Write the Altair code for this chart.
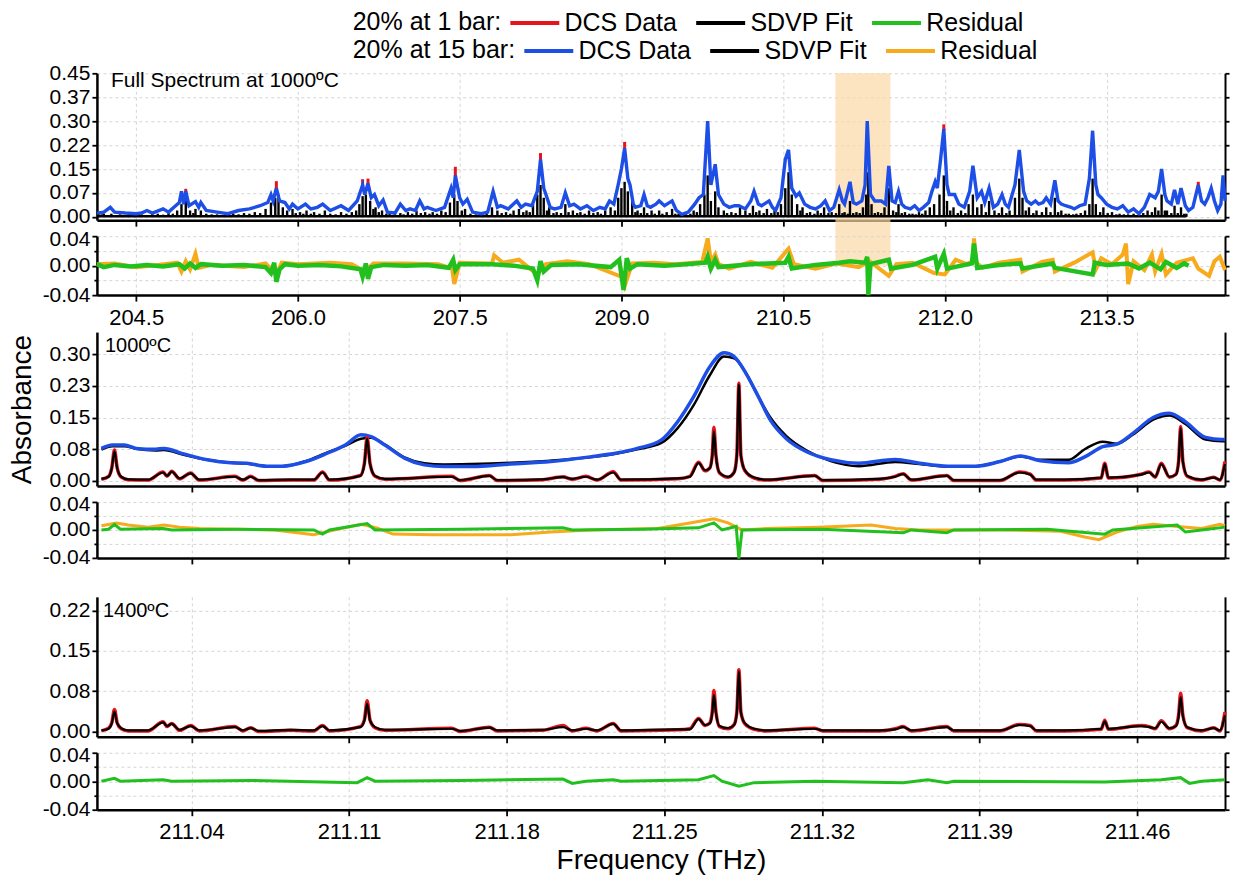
import altair as alt
import pandas as pd

# ---------------- text ----------------
SERIES = ["DCS Data", "SDVP Fit", "Residual"]
SERIES_15 = ["15 bar DCS Data", "15 bar SDVP Fit", "15 bar Residual"]
SERIES_15_PREFIX = "15 bar "
LEG1_TITLE = "20% at 1 bar:"
LEG15_TITLE = "20% at 15 bar:"
COLORS_1BAR = ["#e8141c", "#000000", "#22c01e"]
COLORS_15BAR = ["#1d4fe6", "#000000", "#f7aa1c"]
BAND_COLOR = "#fbd9a6"
PANEL_TEXT = ["Full Spectrum at 1000ºC", "1000ºC", "1400ºC"]
X_TITLE = "Frequency (THz)"
Y_TITLE = "Absorbance"

# ---------------- axes ----------------
FULL_X_DOMAIN = [204.136, 214.598]
FULL_X_TICKS = [204.5, 206.0, 207.5, 209.0, 210.5, 212.0, 213.5]
ZOOM_X_DOMAIN = [210.998, 211.499]
ZOOM_X_TICKS = [211.04, 211.11, 211.18, 211.25, 211.32, 211.39, 211.46]
P1_Y_DOMAIN = [-0.0103, 0.45]
P1_Y_TICKS = [0, 0.075, 0.15, 0.225, 0.3, 0.375, 0.45]
P1_Y_LABELS = ["0.00", "0.07", "0.15", "0.22", "0.30", "0.37", "0.45"]
P2_Y_DOMAIN = [-0.0118, 0.352]
P2_Y_TICKS = [0, 0.075, 0.15, 0.225, 0.3]
P2_Y_LABELS = ["0.00", "0.08", "0.15", "0.23", "0.30"]
P3_Y_DOMAIN = [-0.0099, 0.2505]
P3_Y_TICKS = [0, 0.075, 0.15, 0.225]
P3_Y_LABELS = ["0.00", "0.08", "0.15", "0.22"]
RES_Y_DOMAIN = [-0.04, 0.04]
RES_Y_TICKS = [-0.04, -0.02, 0, 0.02, 0.04]
RES_Y_LABELS = ["-0.04", "", "0.00", "", "0.04"]
BAND = [210.985, 211.495]

# ---------------- full spectrum (1000 C) ----------------
P1_BLUE_15BAR = [(204.136,0.012),(204.2,0.015),(204.26,0.03),(204.3,0.015),(204.4,0.012),(204.5,0.01),(204.55,0.012),(204.6,0.02),(204.65,0.012),(204.75,0.025),(204.8,0.015),(204.85,0.03),(204.9,0.045),(204.92,0.08),(204.94,0.04),(204.96,0.08),(204.99,0.035),(205.05,0.048),(205.08,0.03),(205.1,0.045),(205.15,0.02),(205.25,0.015),(205.35,0.01),(205.45,0.02),(205.55,0.025),(205.65,0.035),(205.72,0.045),(205.75,0.07),(205.77,0.05),(205.8,0.09),(205.83,0.05),(205.88,0.045),(205.92,0.025),(205.95,0.04),(206.0,0.025),(206.07,0.04),(206.12,0.025),(206.18,0.03),(206.23,0.04),(206.3,0.02),(206.4,0.035),(206.47,0.02),(206.55,0.05),(206.6,0.1),(206.62,0.07),(206.65,0.105),(206.68,0.06),(206.71,0.07),(206.75,0.035),(206.79,0.053),(206.83,0.015),(206.9,0.012),(206.95,0.04),(207.0,0.02),(207.04,0.025),(207.09,0.02),(207.13,0.05),(207.17,0.025),(207.2,0.03),(207.28,0.02),(207.36,0.03),(207.42,0.09),(207.44,0.06),(207.46,0.13),(207.5,0.06),(207.53,0.04),(207.57,0.055),(207.62,0.015),(207.7,0.01),(207.76,0.015),(207.81,0.08),(207.85,0.03),(207.88,0.035),(207.95,0.025),(208.03,0.05),(208.07,0.03),(208.11,0.04),(208.17,0.035),(208.22,0.08),(208.25,0.18),(208.28,0.09),(208.3,0.07),(208.34,0.03),(208.38,0.025),(208.44,0.03),(208.48,0.075),(208.52,0.035),(208.56,0.04),(208.62,0.025),(208.68,0.035),(208.74,0.02),(208.8,0.03),(208.85,0.025),(208.89,0.05),(208.93,0.04),(208.97,0.1),(209.0,0.15),(209.03,0.215),(209.06,0.12),(209.08,0.1),(209.11,0.04),(209.13,0.03),(209.18,0.035),(209.21,0.07),(209.24,0.035),(209.27,0.03),(209.32,0.04),(209.35,0.05),(209.4,0.035),(209.47,0.05),(209.51,0.02),(209.56,0.008),(209.62,0.015),(209.68,0.04),(209.72,0.06),(209.76,0.07),(209.8,0.3),(209.83,0.1),(209.87,0.165),(209.9,0.07),(209.95,0.04),(210.0,0.03),(210.05,0.035),(210.09,0.035),(210.15,0.025),(210.2,0.05),(210.23,0.08),(210.27,0.04),(210.3,0.035),(210.37,0.05),(210.4,0.03),(210.43,0.02),(210.48,0.06),(210.52,0.18),(210.55,0.21),(210.58,0.09),(210.62,0.065),(210.65,0.075),(210.7,0.04),(210.75,0.03),(210.8,0.025),(210.85,0.035),(210.89,0.05),(210.93,0.02),(210.97,0.03),(211.02,0.085),(211.05,0.05),(211.07,0.04),(211.12,0.11),(211.15,0.045),(211.18,0.04),(211.23,0.05),(211.26,0.1),(211.28,0.3),(211.31,0.07),(211.35,0.05),(211.41,0.05),(211.45,0.04),(211.48,0.16),(211.51,0.05),(211.54,0.045),(211.57,0.08),(211.6,0.04),(211.63,0.03),(211.68,0.025),(211.72,0.035),(211.76,0.02),(211.8,0.03),(211.85,0.045),(211.88,0.08),(211.91,0.11),(211.93,0.09),(211.96,0.18),(211.99,0.275),(212.02,0.1),(212.04,0.07),(212.09,0.07),(212.13,0.04),(212.18,0.03),(212.23,0.08),(212.26,0.16),(212.3,0.06),(212.34,0.08),(212.37,0.045),(212.41,0.09),(212.45,0.03),(212.49,0.04),(212.53,0.07),(212.56,0.04),(212.59,0.03),(212.65,0.1),(212.69,0.21),(212.73,0.08),(212.76,0.05),(212.8,0.04),(212.84,0.05),(212.87,0.04),(212.91,0.045),(212.94,0.06),(212.98,0.04),(213.02,0.115),(213.05,0.05),(213.08,0.04),(213.12,0.035),(213.17,0.03),(213.2,0.025),(213.25,0.035),(213.3,0.04),(213.34,0.12),(213.37,0.27),(213.4,0.1),(213.42,0.07),(213.45,0.06),(213.5,0.04),(213.55,0.03),(213.6,0.025),(213.65,0.035),(213.7,0.015),(213.75,0.025),(213.8,0.01),(213.85,0.03),(213.9,0.07),(213.95,0.06),(213.98,0.08),(214.01,0.15),(214.04,0.07),(214.06,0.05),(214.1,0.04),(214.13,0.085),(214.16,0.04),(214.19,0.09),(214.23,0.035),(214.26,0.02),(214.3,0.03),(214.35,0.1),(214.38,0.05),(214.41,0.04),(214.44,0.06),(214.47,0.09),(214.5,0.05),(214.53,0.02),(214.56,0.04),(214.58,0.13),(214.598,0.05)]

P1_STICKS_1BAR = [(204.15,0.015),(204.18,0.008),(204.2,0.01),(204.24,0.006),(204.27,0.01),(204.31,0.005),(204.35,0.008),(204.4,0.006),(204.45,0.005),(204.5,0.007),(204.55,0.008),(204.6,0.006),(204.65,0.009),(204.7,0.01),(204.75,0.007),(204.8,0.012),(204.84,0.01),(204.88,0.02),(204.92,0.04),(204.96,0.05),(205.0,0.02),(205.03,0.012),(205.05,0.025),(205.1,0.02),(205.15,0.01),(205.2,0.008),(205.25,0.008),(205.3,0.006),(205.35,0.007),(205.4,0.01),(205.45,0.008),(205.5,0.012),(205.55,0.01),(205.6,0.015),(205.65,0.012),(205.7,0.025),(205.75,0.045),(205.79,0.06),(205.82,0.07),(205.86,0.03),(205.9,0.02),(205.95,0.025),(205.98,0.012),(206.02,0.015),(206.05,0.01),(206.08,0.02),(206.12,0.01),(206.15,0.015),(206.2,0.01),(206.25,0.02),(206.3,0.01),(206.35,0.008),(206.4,0.015),(206.45,0.01),(206.5,0.015),(206.54,0.02),(206.57,0.04),(206.6,0.065),(206.63,0.07),(206.67,0.05),(206.7,0.025),(206.72,0.03),(206.75,0.015),(206.78,0.02),(206.82,0.01),(206.85,0.015),(206.9,0.01),(206.95,0.012),(206.98,0.008),(207.02,0.015),(207.06,0.01),(207.1,0.02),(207.14,0.012),(207.18,0.015),(207.22,0.01),(207.25,0.015),(207.29,0.01),(207.33,0.02),(207.37,0.015),(207.41,0.045),(207.45,0.07),(207.48,0.05),(207.52,0.02),(207.55,0.025),(207.6,0.01),(207.65,0.008),(207.7,0.008),(207.75,0.012),(207.8,0.03),(207.85,0.02),(207.89,0.012),(207.93,0.015),(207.97,0.01),(208.0,0.02),(208.05,0.025),(208.09,0.015),(208.12,0.02),(208.15,0.015),(208.18,0.04),(208.22,0.07),(208.25,0.1),(208.28,0.06),(208.31,0.02),(208.33,0.03),(208.37,0.012),(208.4,0.015),(208.44,0.012),(208.48,0.04),(208.51,0.015),(208.55,0.02),(208.59,0.012),(208.62,0.015),(208.66,0.01),(208.7,0.02),(208.74,0.012),(208.78,0.015),(208.81,0.01),(208.85,0.02),(208.9,0.03),(208.94,0.02),(208.97,0.06),(209.0,0.09),(209.03,0.11),(209.06,0.08),(209.1,0.05),(209.13,0.015),(209.15,0.02),(209.18,0.012),(209.21,0.03),(209.24,0.012),(209.28,0.02),(209.31,0.01),(209.35,0.02),(209.38,0.01),(209.42,0.015),(209.47,0.025),(209.5,0.01),(209.53,0.01),(209.57,0.006),(209.6,0.008),(209.64,0.01),(209.67,0.02),(209.7,0.015),(209.73,0.04),(209.77,0.07),(209.8,0.13),(209.83,0.05),(209.87,0.08),(209.9,0.03),(209.95,0.02),(209.98,0.012),(210.02,0.015),(210.06,0.012),(210.1,0.03),(210.15,0.02),(210.19,0.012),(210.22,0.035),(210.25,0.015),(210.28,0.02),(210.32,0.012),(210.35,0.025),(210.39,0.012),(210.42,0.02),(210.45,0.015),(210.48,0.04),(210.52,0.09),(210.55,0.14),(210.58,0.07),(210.63,0.04),(210.66,0.02),(210.68,0.03),(210.72,0.012),(210.75,0.015),(210.79,0.01),(210.82,0.02),(210.85,0.012),(210.88,0.03),(210.92,0.012),(210.95,0.015),(210.99,0.012),(211.02,0.04),(211.05,0.012),(211.07,0.015),(211.1,0.01),(211.12,0.05),(211.15,0.012),(211.18,0.015),(211.21,0.012),(211.24,0.03),(211.27,0.07),(211.29,0.14),(211.32,0.04),(211.35,0.012),(211.38,0.015),(211.41,0.012),(211.44,0.03),(211.48,0.09),(211.52,0.02),(211.55,0.015),(211.57,0.04),(211.6,0.012),(211.63,0.015),(211.67,0.01),(211.7,0.01),(211.73,0.008),(211.76,0.015),(211.79,0.01),(211.82,0.02),(211.86,0.03),(211.9,0.04),(211.95,0.07),(211.99,0.13),(212.02,0.05),(212.05,0.02),(212.08,0.03),(212.12,0.012),(212.15,0.02),(212.19,0.012),(212.22,0.04),(212.26,0.07),(212.3,0.03),(212.34,0.04),(212.38,0.015),(212.41,0.05),(212.46,0.02),(212.5,0.012),(212.53,0.03),(212.57,0.012),(212.6,0.02),(212.65,0.06),(212.69,0.12),(212.72,0.06),(212.75,0.02),(212.78,0.03),(212.82,0.012),(212.85,0.02),(212.9,0.015),(212.94,0.03),(212.98,0.015),(213.02,0.06),(213.05,0.015),(213.08,0.02),(213.12,0.01),(213.15,0.01),(213.19,0.008),(213.22,0.01),(213.26,0.012),(213.3,0.02),(213.34,0.04),(213.37,0.12),(213.4,0.04),(213.44,0.015),(213.47,0.03),(213.51,0.012),(213.55,0.015),(213.59,0.008),(213.62,0.01),(213.66,0.008),(213.7,0.008),(213.75,0.01),(213.8,0.01),(213.84,0.012),(213.88,0.02),(213.92,0.015),(213.95,0.03),(213.98,0.02),(214.01,0.07),(214.04,0.02),(214.06,0.02),(214.1,0.012),(214.13,0.035),(214.16,0.012),(214.19,0.03),(214.22,0.01),(214.24,0.01)]

P1_FIT_1BAR_BASE = (204.136, 214.24, 0.002)   # start, end, level
P1_RED_TIPS_1BAR = [(204.96,0.078,0.088),(205.8,0.088,0.112),(206.6,0.098,0.118),(206.65,0.103,0.12),(207.46,0.128,0.157),(208.25,0.178,0.2),(209.03,0.213,0.235),(211.99,0.273,0.29),(214.35,0.098,0.11)]

P1_RES_1BAR = [(204.136,0.002),(204.2,-0.002),(204.3,0.001),(204.45,-0.001),(204.6,0.001),(204.75,-0.001),(204.9,0.002),(204.95,-0.004),(205.0,0.003),(205.05,-0.003),(205.1,0.002),(205.3,0.0),(205.5,0.001),(205.7,-0.002),(205.75,-0.01),(205.78,0.004),(205.8,-0.022),(205.83,-0.005),(205.88,0.002),(206.0,0.0),(206.2,0.001),(206.4,-0.001),(206.58,-0.005),(206.6,-0.015),(206.63,0.003),(206.65,-0.018),(206.68,-0.002),(206.8,0.001),(207.0,0.0),(207.2,0.001),(207.4,-0.003),(207.44,0.008),(207.46,-0.006),(207.5,0.002),(207.8,0.002),(208.0,0.0),(208.18,-0.004),(208.22,-0.02),(208.25,0.006),(208.28,-0.008),(208.35,0.001),(208.6,0.002),(208.9,-0.002),(208.98,0.008),(209.02,-0.033),(209.05,0.01),(209.08,-0.004),(209.15,0.002),(209.4,0.0),(209.6,0.002),(209.78,0.004),(209.8,0.012),(209.83,-0.004),(209.87,0.008),(209.9,-0.002),(210.2,0.002),(210.52,0.004),(210.55,0.012),(210.58,-0.004),(210.8,0.001),(211.02,0.004),(211.12,0.006),(211.26,0.004),(211.28,0.012),(211.29,-0.04),(211.31,0.002),(211.48,0.008),(211.5,-0.004),(211.7,0.001),(211.91,0.012),(211.93,-0.004),(211.99,0.016),(212.02,-0.004),(212.25,0.003),(212.27,0.03),(212.3,-0.003),(212.5,0.001),(212.7,0.003),(212.72,-0.004),(213.0,0.003),(213.02,-0.003),(213.37,-0.012),(213.39,0.004),(213.5,0.001),(213.7,0.003),(213.8,-0.004),(213.9,0.004),(214.0,-0.005),(214.05,0.005),(214.15,-0.003),(214.22,0.003),(214.26,0.0)]

P1_RES_15BAR = [(204.136,0.002),(204.3,0.003),(204.5,-0.002),(204.7,0.001),(204.88,0.004),(204.92,-0.008),(204.96,0.006),(205.0,-0.005),(205.05,0.016),(205.08,-0.003),(205.2,0.001),(205.5,-0.002),(205.7,0.003),(205.8,-0.012),(205.85,0.004),(206.0,0.002),(206.3,0.004),(206.5,0.002),(206.62,-0.008),(206.7,0.003),(207.0,0.003),(207.3,0.002),(207.43,-0.004),(207.45,-0.025),(207.5,0.004),(207.8,0.003),(207.82,0.014),(207.9,0.004),(208.05,0.008),(208.22,-0.012),(208.3,0.002),(208.5,0.006),(208.7,0.002),(209.0,-0.015),(209.03,-0.028),(209.1,0.003),(209.3,0.004),(209.5,0.002),(209.75,0.005),(209.8,0.037),(209.83,0.005),(209.87,0.015),(209.9,0.002),(210.0,-0.004),(210.2,0.005),(210.4,-0.003),(210.55,0.023),(210.6,0.002),(210.8,-0.004),(211.0,0.003),(211.2,-0.002),(211.3,0.006),(211.48,-0.014),(211.55,0.002),(211.7,0.004),(211.9,-0.01),(212.0,-0.012),(212.1,0.008),(212.2,0.002),(212.26,0.006),(212.27,0.037),(212.29,0.004),(212.35,-0.003),(212.5,0.004),(212.7,0.008),(212.72,-0.008),(212.9,0.005),(213.0,0.008),(213.02,-0.008),(213.2,0.004),(213.37,0.018),(213.4,-0.005),(213.45,0.01),(213.55,0.002),(213.65,0.015),(213.68,0.03),(213.7,-0.025),(213.75,0.006),(213.85,-0.006),(213.92,0.015),(213.95,-0.008),(214.01,0.016),(214.05,-0.012),(214.15,0.004),(214.3,0.01),(214.35,-0.004),(214.45,-0.014),(214.5,0.006),(214.55,0.012),(214.598,-0.006)]

# ---------------- zoomed window: 15 bar at 1000 C ----------------
Z15_FREQ = [211.0,211.0049,211.0102,211.0154,211.0242,211.0277,211.0365,211.047,211.0575,211.0645,211.0733,211.0803,211.0908,211.0996,211.1083,211.1153,211.1197,211.1259,211.1346,211.1434,211.1521,211.1644,211.1819,211.1995,211.217,211.2289,211.238,211.2487,211.2559,211.2631,211.2702,211.2765,211.281,211.2863,211.2917,211.2971,211.3042,211.3132,211.3239,211.3364,211.3525,211.3633,211.3758,211.3884,211.3991,211.4081,211.417,211.4295,211.4367,211.4447,211.451,211.4582,211.4671,211.4743,211.4814,211.4904,211.4976,211.499]
P2_DATA_15BAR = [0.077,0.085,0.085,0.077,0.075,0.077,0.064,0.05,0.043,0.042,0.035,0.035,0.046,0.064,0.085,0.109,0.105,0.085,0.054,0.038,0.034,0.034,0.04,0.046,0.057,0.066,0.077,0.097,0.14,0.2,0.27,0.303,0.294,0.254,0.2,0.144,0.1,0.069,0.05,0.042,0.051,0.042,0.035,0.035,0.046,0.059,0.048,0.043,0.057,0.081,0.087,0.113,0.15,0.16,0.14,0.103,0.098,0.098]
P2_FIT_15BAR = [0.074,0.082,0.082,0.076,0.072,0.073,0.062,0.05,0.043,0.041,0.035,0.035,0.047,0.066,0.083,0.1,0.102,0.086,0.056,0.042,0.039,0.04,0.043,0.048,0.056,0.065,0.075,0.09,0.125,0.18,0.25,0.294,0.29,0.255,0.2,0.15,0.106,0.072,0.047,0.035,0.045,0.04,0.034,0.035,0.046,0.058,0.05,0.05,0.075,0.093,0.088,0.11,0.145,0.155,0.135,0.098,0.094,0.094]

# ---------------- zoomed window: 1 bar lines ----------------
Z1_FREQ = [211.0,211.0032,211.0046,211.0058,211.007,211.0088,211.0119,211.0207,211.0274,211.0291,211.0312,211.0347,211.0396,211.0435,211.0593,211.0628,211.0663,211.0698,211.084,211.0943,211.0982,211.1013,211.115,211.1168,211.118,211.1193,211.1215,211.1259,211.1556,211.1592,211.1723,211.1758,211.196,211.205,211.2091,211.2152,211.2201,211.2273,211.2308,211.2559,211.2613,211.2652,211.2681,211.2702,211.2713,211.272,211.2729,211.2745,211.2783,211.281,211.2822,211.2831,211.284,211.2858,211.2899,211.2953,211.3168,211.3203,211.3454,211.3525,211.3561,211.3597,211.3755,211.3785,211.3991,211.4077,211.4125,211.4152,211.4278,211.444,211.4456,211.4472,211.4617,211.4653,211.468,211.4707,211.4743,211.4772,211.4784,211.4793,211.4803,211.4822,211.4886,211.494,211.4967,211.499]
P2_FIT_1BAR = [0.005,0.01,0.03,0.07,0.03,0.01,0.004,0.003,0.02,0.012,0.022,0.006,0.018,0.003,0.01,0.003,0.01,0.002,0.003,0.003,0.02,0.003,0.012,0.04,0.1,0.04,0.012,0.005,0.01,0.002,0.012,0.002,0.004,0.009,0.005,0.01,0.003,0.02,0.003,0.006,0.01,0.042,0.025,0.03,0.06,0.118,0.06,0.02,0.01,0.02,0.06,0.228,0.06,0.025,0.008,0.003,0.012,0.002,0.005,0.01,0.016,0.003,0.012,0.002,0.002,0.02,0.015,0.003,0.003,0.008,0.04,0.008,0.015,0.02,0.01,0.04,0.01,0.015,0.045,0.125,0.045,0.012,0.003,0.008,0.003,0.04]
P2_DATA_1BAR = [0.004,0.011,0.031,0.073,0.031,0.009,0.003,0.002,0.021,0.011,0.023,0.005,0.019,0.002,0.011,0.002,0.011,0.001,0.002,0.002,0.021,0.002,0.013,0.042,0.103,0.041,0.011,0.004,0.011,0.001,0.013,0.001,0.003,0.01,0.004,0.011,0.002,0.022,0.002,0.005,0.011,0.044,0.024,0.031,0.063,0.127,0.062,0.019,0.009,0.021,0.062,0.231,0.061,0.024,0.007,0.002,0.013,0.001,0.004,0.011,0.017,0.002,0.013,0.001,0.001,0.021,0.016,0.002,0.002,0.007,0.042,0.007,0.016,0.021,0.009,0.042,0.009,0.016,0.047,0.129,0.046,0.011,0.002,0.009,0.002,0.046]
P3_FIT_1BAR = [0.002,0.005,0.015,0.037,0.015,0.006,0.002,0.002,0.017,0.01,0.014,0.003,0.01,0.002,0.008,0.002,0.006,0.001,0.003,0.002,0.01,0.002,0.008,0.02,0.052,0.02,0.008,0.003,0.005,0.001,0.007,0.002,0.003,0.008,0.002,0.005,0.002,0.014,0.002,0.004,0.004,0.023,0.012,0.015,0.035,0.068,0.035,0.01,0.006,0.012,0.035,0.112,0.035,0.015,0.005,0.002,0.005,0.002,0.002,0.004,0.008,0.002,0.008,0.002,0.002,0.012,0.01,0.002,0.002,0.005,0.019,0.005,0.01,0.008,0.006,0.018,0.006,0.01,0.028,0.064,0.028,0.008,0.002,0.006,0.002,0.03]
P3_DATA_1BAR = [0.001,0.006,0.016,0.041,0.016,0.005,0.001,0.001,0.018,0.009,0.015,0.002,0.011,0.001,0.009,0.001,0.007,0.0,0.002,0.001,0.011,0.001,0.009,0.022,0.057,0.021,0.007,0.002,0.006,0.0,0.008,0.001,0.002,0.011,0.001,0.006,0.001,0.015,0.001,0.003,0.005,0.024,0.011,0.016,0.038,0.076,0.037,0.009,0.005,0.013,0.036,0.115,0.036,0.014,0.004,0.001,0.006,0.001,0.001,0.005,0.009,0.001,0.009,0.001,0.001,0.013,0.011,0.001,0.001,0.004,0.021,0.004,0.011,0.009,0.005,0.02,0.005,0.011,0.031,0.071,0.03,0.007,0.001,0.007,0.001,0.036]

# ---------------- zoomed window residuals ----------------
P2_RES_15BAR = [(211.0,0.006),(211.0067,0.01),(211.0119,0.007),(211.0207,0.004),(211.0277,0.007),(211.0347,0.004),(211.0435,0.002),(211.0593,0.001),(211.0768,0.0),(211.0943,-0.007),(211.1048,0.001),(211.1153,0.008),(211.1223,0.003),(211.1294,-0.006),(211.1469,-0.007),(211.1644,-0.007),(211.1819,-0.007),(211.1995,-0.003),(211.217,0.0),(211.2469,0.002),(211.2613,0.01),(211.272,0.016),(211.2783,0.01),(211.2845,0.0),(211.2953,0.002),(211.3185,0.004),(211.3418,0.007),(211.3525,0.002),(211.3633,0.0),(211.3991,0.0),(211.426,-0.002),(211.4367,-0.01),(211.443,-0.014),(211.451,-0.003),(211.46,0.005),(211.4671,0.008),(211.4778,0.005),(211.4886,0.002),(211.4967,0.008),(211.499,0.006)]
P2_RES_1BAR = [(211.0,0.0),(211.0032,0.001),(211.0058,0.008),(211.0084,0.001),(211.0274,0.002),(211.0312,0.0),(211.06,0.001),(211.0943,0.0),(211.0982,-0.006),(211.1013,0.0),(211.118,0.009),(211.1215,0.0),(211.16,0.001),(211.205,0.003),(211.2091,0.0),(211.24,0.001),(211.2652,0.003),(211.272,0.01),(211.2756,0.0),(211.2819,0.005),(211.2831,-0.041),(211.2845,0.0),(211.32,0.001),(211.3561,-0.004),(211.3597,0.0),(211.3755,-0.004),(211.3785,0.0),(211.42,0.001),(211.4456,-0.006),(211.4492,0.0),(211.4778,0.007),(211.4814,-0.003),(211.4886,0.0),(211.499,0.004)]
P3_RES_1BAR = [(211.0,0.0),(211.0058,0.004),(211.0084,0.0),(211.0274,0.002),(211.0312,0.0),(211.0663,0.001),(211.0982,-0.001),(211.1136,-0.002),(211.118,0.005),(211.1215,0.0),(211.16,0.001),(211.205,0.003),(211.2091,-0.003),(211.2152,0.0),(211.2273,0.002),(211.2308,0.0),(211.2652,0.002),(211.272,0.008),(211.2756,0.0),(211.2831,-0.007),(211.2899,-0.002),(211.3168,0.0),(211.3561,-0.002),(211.367,0.002),(211.3755,-0.002),(211.3785,0.0),(211.4456,-0.001),(211.4707,0.002),(211.4793,0.005),(211.4832,-0.003),(211.4886,0.0),(211.499,0.002)]

# ---------------- layout ----------------
W = 1129
H_MAIN = [147, 154, 140]
H_RES = [59, 56, 57]
GAP = 16
FONT = "Liberation Sans"


def pairs_df(pairs, s, col="s"):
    return pd.DataFrame({"f": [p[0] for p in pairs], "v": [p[1] for p in pairs], col: s})


def lists_df(fs, vs, s, col="s"):
    return pd.DataFrame({"f": fs, "v": vs, col: s})


def lab_expr(vals, labs):
    e = "''"
    for v, l in zip(vals, labs):
        e = f"abs(datum.value - ({v})) < 1e-6 ? '{l}' : ({e})"
    return e


def xenc(domain, ticks, fmt, labels, title=None):
    return alt.X("f:Q", title=title,
                 scale=alt.Scale(domain=domain, nice=False, zero=False),
                 axis=alt.Axis(values=ticks, format=fmt, labels=labels, grid=True,
                               tickSize=6, labelPadding=6, labelOverlap=False,
                               labelFlush=False, titleFontSize=28,
                               titleFontWeight="normal", titlePadding=4))


def yenc(domain, field="v"):
    return alt.Y(f"{field}:Q", scale=alt.Scale(domain=domain, nice=False, zero=False), axis=None)


# legend symbol: a horizontal stroke reaching left of the entry box (keeps the row compact)
LEG_SYMBOL = "M-3,0H1"
LEG_COMMON = dict(orient="none", direction="horizontal", titleOrient="left",
                  titleFontSize=25, titleFontWeight="normal", labelFontSize=25,
                  symbolType=LEG_SYMBOL, symbolSize=600, symbolStrokeWidth=4,
                  labelOffset=3, columnPadding=10, titlePadding=31,
                  titleBaseline="middle", titleAnchor="middle",
                  labelLimit=400, titleLimit=400, legendX=256)


def cenc():
    return alt.Color("s:N", scale=alt.Scale(domain=SERIES, range=COLORS_1BAR),
                     legend=alt.Legend(title=LEG1_TITLE, legendY=-65, **LEG_COMMON))


def senc():
    return alt.Stroke("s15:N", scale=alt.Scale(domain=SERIES_15, range=COLORS_15BAR),
                      legend=alt.Legend(title=LEG15_TITLE, legendY=-37,
                                        labelExpr=f"replace(datum.label, '{SERIES_15_PREFIX}', '')",
                                        **LEG_COMMON))


def axis_layers(domain, ticks, labels, title=None, res=False):
    df = pd.DataFrame({"v": [domain[0]]})
    left_kw = dict(values=ticks, labelExpr=lab_expr(ticks, labels), grid=True,
                   tickSize=5, labelPadding=2, labelOverlap=False, labelFontSize=21,
                   titleFontSize=28, titleFontWeight="normal", titlePadding=13)
    if res:
        left_kw["tickSize"] = {"condition": {"test": "abs(datum.value) > 0.01 && abs(datum.value) < 0.03", "value": 3}, "value": 5}
        left_kw["labelOffset"] = {"condition": {"test": "datum.value > 0.03", "value": 3}, "value": 0}
    left = alt.Chart(df).mark_point(opacity=0).encode(
        y=alt.Y("v:Q", title=title, scale=alt.Scale(domain=domain, nice=False, zero=False),
                axis=alt.Axis(**left_kw)))
    right = alt.Chart(df).mark_point(opacity=0).encode(
        y=alt.Y("v:Q", title=None, scale=alt.Scale(domain=domain, nice=False, zero=False),
                axis=alt.Axis(orient="right", values=ticks, labels=False, grid=False,
                              tickSize=4, domainWidth=2)))
    return [left, right]


def text_layer(txt, dx, base, size=20):
    return alt.Chart(pd.DataFrame({"t": [txt]})).mark_text(
        align="left", baseline="alphabetic", fontSize=size, font=FONT, color="black"
    ).encode(text="t:N", x=alt.value(dx), y=alt.value(base))


def s15(name):
    return SERIES_15[SERIES.index(name)]


# ---------- panel 1: full spectrum ----------
x1 = xenc(FULL_X_DOMAIN, FULL_X_TICKS, ".1f", False)
band = alt.Chart(pd.DataFrame({"f": [BAND[0]], "f2": [BAND[1]]})).mark_rect(
    color=BAND_COLOR, opacity=0.7).encode(
    x=x1, x2="f2:Q", y=alt.value(0), y2=alt.value(H_MAIN[0] + GAP + H_RES[0] / 2))
red_tips = alt.Chart(pd.DataFrame({"f": [t[0] for t in P1_RED_TIPS_1BAR],
                                   "lo": [t[1] for t in P1_RED_TIPS_1BAR],
                                   "hi": [t[2] for t in P1_RED_TIPS_1BAR],
                                   "s": "DCS Data"})).mark_rule(strokeWidth=3).encode(
    x=x1, y=yenc(P1_Y_DOMAIN, "lo"), y2="hi:Q", color=cenc())
sticks = alt.Chart(pairs_df(P1_STICKS_1BAR, "SDVP Fit")).mark_rule(strokeWidth=2.4).encode(
    x=x1, y=yenc(P1_Y_DOMAIN), y2=alt.datum(0), color=cenc())
base = alt.Chart(pd.DataFrame({"f": [P1_FIT_1BAR_BASE[0]], "f2": [P1_FIT_1BAR_BASE[1]],
                               "v": [P1_FIT_1BAR_BASE[2]], "s": "SDVP Fit"})).mark_rule(strokeWidth=2.5).encode(
    x=x1, x2="f2:Q", y=yenc(P1_Y_DOMAIN), color=cenc())
blue1 = alt.Chart(pairs_df(P1_BLUE_15BAR, s15("DCS Data"), "s15")).mark_line(strokeWidth=3.4).encode(
    x=x1, y=yenc(P1_Y_DOMAIN), stroke=senc())
p1_main = alt.layer(band, red_tips, sticks, base, blue1,
                    text_layer(PANEL_TEXT[0], 14, 14, 21),
                    *axis_layers(P1_Y_DOMAIN, P1_Y_TICKS, P1_Y_LABELS)
                    ).resolve_axis(y="independent").properties(width=W, height=H_MAIN[0])

x1r = xenc(FULL_X_DOMAIN, FULL_X_TICKS, ".1f", True)
or1 = alt.Chart(pairs_df(P1_RES_15BAR, s15("Residual"), "s15")).mark_line(strokeWidth=4).encode(
    x=x1r, y=yenc(RES_Y_DOMAIN), stroke=senc())
gr1 = alt.Chart(pairs_df(P1_RES_1BAR, "Residual")).mark_line(strokeWidth=4.5).encode(
    x=x1r, y=yenc(RES_Y_DOMAIN), color=cenc())
p1_res = alt.layer(or1, gr1, *axis_layers(RES_Y_DOMAIN, RES_Y_TICKS, RES_Y_LABELS, res=True)
                   ).resolve_axis(y="independent").properties(width=W, height=H_RES[0])

# ---------- panel 2: 1000 C zoom ----------
x2 = xenc(ZOOM_X_DOMAIN, ZOOM_X_TICKS, ".2f", False)
fit15 = alt.Chart(lists_df(Z15_FREQ, P2_FIT_15BAR, s15("SDVP Fit"), "s15")).mark_line(
    strokeWidth=2.5, interpolate="monotone").encode(x=x2, y=yenc(P2_Y_DOMAIN), stroke=senc())
dat15 = alt.Chart(lists_df(Z15_FREQ, P2_DATA_15BAR, s15("DCS Data"), "s15")).mark_line(
    strokeWidth=3.5, interpolate="monotone").encode(x=x2, y=yenc(P2_Y_DOMAIN), stroke=senc())
dat1 = alt.Chart(lists_df(Z1_FREQ, P2_DATA_1BAR, "DCS Data")).mark_line(
    strokeWidth=3.5, interpolate="monotone").encode(x=x2, y=yenc(P2_Y_DOMAIN), color=cenc())
fit1 = alt.Chart(lists_df(Z1_FREQ, P2_FIT_1BAR, "SDVP Fit")).mark_line(
    strokeWidth=2.2, interpolate="monotone").encode(x=x2, y=yenc(P2_Y_DOMAIN), color=cenc())
p2_main = alt.layer(fit15, dat15, dat1, fit1, text_layer(PANEL_TEXT[1], 8, 20),
                    *axis_layers(P2_Y_DOMAIN, P2_Y_TICKS, P2_Y_LABELS, title=Y_TITLE)
                    ).resolve_axis(y="independent").properties(width=W, height=H_MAIN[1])

x2r = xenc(ZOOM_X_DOMAIN, ZOOM_X_TICKS, ".2f", False)
or2 = alt.Chart(pairs_df(P2_RES_15BAR, s15("Residual"), "s15")).mark_line(strokeWidth=3).encode(
    x=x2r, y=yenc(RES_Y_DOMAIN), stroke=senc())
gr2 = alt.Chart(pairs_df(P2_RES_1BAR, "Residual")).mark_line(strokeWidth=3).encode(
    x=x2r, y=yenc(RES_Y_DOMAIN), color=cenc())
p2_res = alt.layer(or2, gr2, *axis_layers(RES_Y_DOMAIN, RES_Y_TICKS, RES_Y_LABELS, res=True)
                   ).resolve_axis(y="independent").properties(width=W, height=H_RES[1])

# ---------- panel 3: 1400 C zoom ----------
x3 = xenc(ZOOM_X_DOMAIN, ZOOM_X_TICKS, ".2f", False)
dat3 = alt.Chart(lists_df(Z1_FREQ, P3_DATA_1BAR, "DCS Data")).mark_line(
    strokeWidth=3.5, interpolate="monotone").encode(x=x3, y=yenc(P3_Y_DOMAIN), color=cenc())
fit3 = alt.Chart(lists_df(Z1_FREQ, P3_FIT_1BAR, "SDVP Fit")).mark_line(
    strokeWidth=2.2, interpolate="monotone").encode(x=x3, y=yenc(P3_Y_DOMAIN), color=cenc())
p3_main = alt.layer(dat3, fit3, text_layer(PANEL_TEXT[2], 6, 20),
                    *axis_layers(P3_Y_DOMAIN, P3_Y_TICKS, P3_Y_LABELS)
                    ).resolve_axis(y="independent").properties(width=W, height=H_MAIN[2])

x3r = xenc(ZOOM_X_DOMAIN, ZOOM_X_TICKS, ".2f", True, title=X_TITLE)
gr3 = alt.Chart(pairs_df(P3_RES_1BAR, "Residual")).mark_line(strokeWidth=3).encode(
    x=x3r, y=yenc(RES_Y_DOMAIN), color=cenc())
p3_res = alt.layer(gr3, *axis_layers(RES_Y_DOMAIN, RES_Y_TICKS, RES_Y_LABELS, res=True)
                   ).resolve_axis(y="independent").properties(width=W, height=H_RES[2])


def spacer(h):
    return alt.Chart(pd.DataFrame({"z": [0]})).mark_point(opacity=0).encode(
        x=alt.value(0), y=alt.value(0)).properties(width=W, height=h)


chart = alt.vconcat(p1_main, p1_res, spacer(5), p2_main, p2_res, spacer(7), p3_main, p3_res,
                    spacing=GAP, bounds="flush").properties(
    padding={"left": 8, "top": 8, "right": 0, "bottom": 0}
).configure(font=FONT).configure_view(stroke=None).configure_axis(
    labelFont=FONT, titleFont=FONT, labelFontSize=22, labelColor="black", titleColor="black",
    domainColor="black", domainWidth=2.5, tickColor="black", tickWidth=1.8,
    gridColor="#d4d4d4", gridDash=[3, 3], gridWidth=1
).configure_legend(labelFont=FONT, titleFont=FONT, labelColor="black", titleColor="black")

chart.save("out.html", embed_options={"renderer": "svg", "actions": False})
